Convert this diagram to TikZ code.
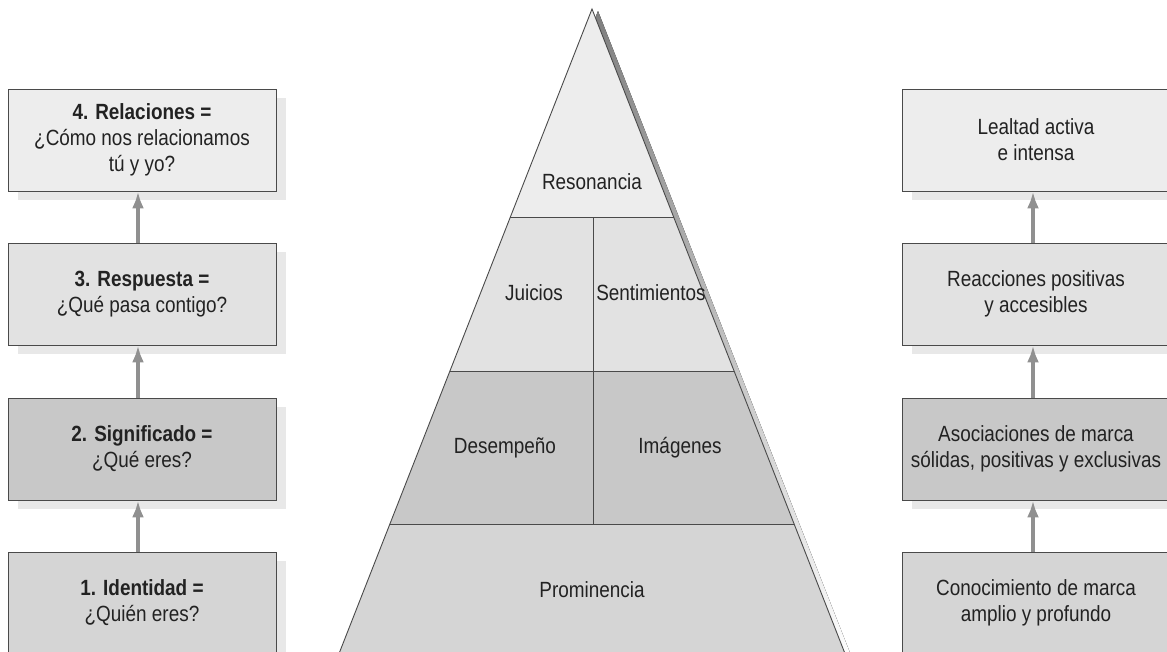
\documentclass[tikz,border=0pt]{standalone}
\usepackage{fontspec}
\setmainfont{Liberation Sans}[FakeStretch=0.86]
\usepackage{tikz}
\usetikzlibrary{arrows.meta,shadows}
\definecolor{frame}{HTML}{4A4A4A}
\definecolor{ink}{HTML}{222222}
\definecolor{pale}{HTML}{EDEDED}
\definecolor{light}{HTML}{E2E2E2}
\definecolor{mid}{HTML}{D5D5D5}
\definecolor{dark}{HTML}{C8C8C8}
\definecolor{shade}{HTML}{E8E8E8}
\definecolor{stem}{HTML}{909090}
\tikzset{%
    >={Latex[length=17pt,width=12pt]},
    stage/.style={draw=frame, line width=0.9pt, minimum width=268pt, minimum height=102pt,
        inner sep=0pt, align=center, text=ink,
        drop shadow={shadow xshift=10pt, shadow yshift=-9pt, fill=shade, opacity=1}},
    rise/.style={draw=stem, line width=4pt, ->},
    tier/.style={draw=frame, line width=0.9pt},
    word/.style={text=ink, inner sep=0pt}
}
\newcommand\Stage[5]{%
    \node[stage, fill=#4] (#1) at (#2,#3) {#5}
}

\begin{document}
\begin{tikzpicture}[x=1pt,y=-1pt]
      \useasboundingbox (0,0) rectangle (1167,651);
      \clip (0,0) rectangle (1167,651);
      \fontsize{22}{26}\selectfont

      \fill[shade] (598,11) -- (854,663) -- (342,663) -- cycle;
      \fill[pale] (592,9) -- (673.6,217) -- (510.4,217) -- cycle;
      \fill[light] (510.4,217) -- (673.6,217) -- (734.1,371) -- (449.9,371) -- cycle;
      \fill[dark] (449.9,371) -- (734.1,371) -- (794.1,524) -- (389.9,524) -- cycle;
      \fill[mid] (389.9,524) -- (794.1,524) -- (847.5,660) -- (336.5,660) -- cycle;
      \draw[tier] (336.5,660) -- (592,9) -- (847.5,660);
      \draw[tier] (510.4,217) -- (673.6,217);
      \draw[tier] (449.9,371) -- (734.1,371);
      \draw[tier] (389.9,524) -- (794.1,524);
      \draw[tier] (593,217) -- (593,524);

      \node[word] (reson) at (592,182) {Resonancia};
      \node[word] (juic) at (534,293) {Juicios};
      \node[word] (senti) at (651,293) {Sentimientos};
      \node[word] (desem) at (505,448) {Desempeño};
      \node[word] (imag) at (680,448) {Imágenes};
      \node[word] (promi) at (592,590) {Prominencia};

      \Stage{rel}{142}{140}{pale}{\textbf{4. Relaciones =}\\¿Cómo nos relacionamos\\tú y yo?};
      \Stage{resp}{142}{294}{light}{\textbf{3. Respuesta =}\\¿Qué pasa contigo?};
      \Stage{sig}{142}{449}{dark}{\textbf{2. Significado =}\\¿Qué eres?};
      \Stage{ident}{142}{603}{mid}{\textbf{1. Identidad =}\\¿Quién eres?};

      \Stage{leal}{1036}{140}{pale}{Lealtad activa\\e intensa};
      \Stage{reac}{1036}{294}{light}{Reacciones positivas\\y accesibles};
      \Stage{asoc}{1036}{449}{dark}{Asociaciones de marca\\sólidas, positivas y exclusivas};
      \Stage{cono}{1036}{603}{mid}{Conocimiento de marca\\amplio y profundo};

      \draw[rise] ([xshift=-4pt]ident.north) -- ([xshift=-4pt]sig.south);
      \draw[rise] ([xshift=-4pt]sig.north) -- ([xshift=-4pt]resp.south);
      \draw[rise] ([xshift=-4pt]resp.north) -- ([xshift=-4pt]rel.south);
      \draw[rise] ([xshift=-3pt]cono.north) -- ([xshift=-3pt]asoc.south);
      \draw[rise] ([xshift=-3pt]asoc.north) -- ([xshift=-3pt]reac.south);
      \draw[rise] ([xshift=-3pt]reac.north) -- ([xshift=-3pt]leal.south);
    \end{tikzpicture}
\end{document}
